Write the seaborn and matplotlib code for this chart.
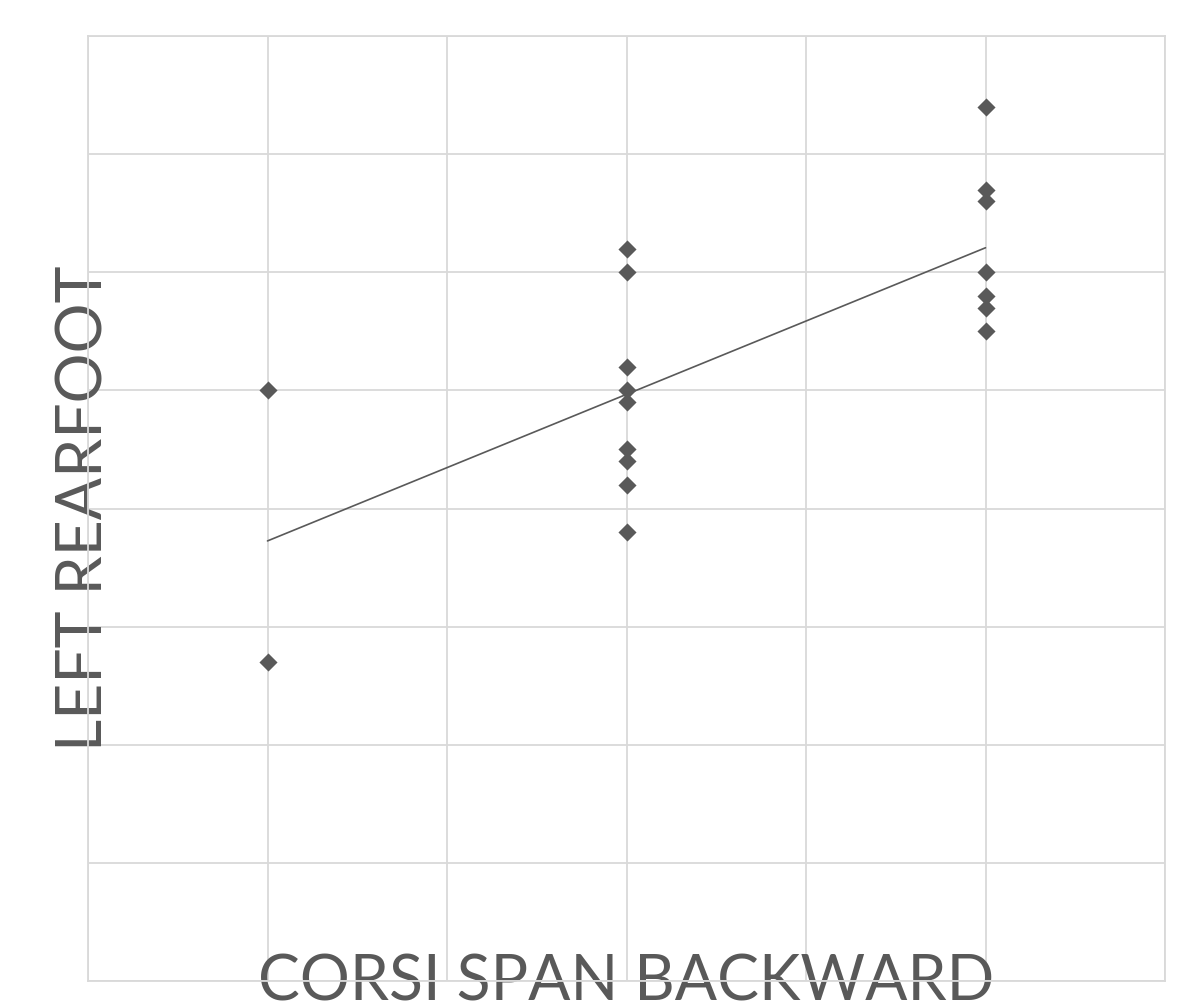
import numpy as np
import pandas as pd
import matplotlib.pyplot as plt
import seaborn as sns

# data
corsi_span = [1, 1,
              3, 3, 3, 3, 3, 3, 3, 3, 3,
              5, 5, 5, 5, 5, 5, 5]
left_rearfoot = [5.0, 2.7,
                 6.2, 6.0, 5.2, 5.0, 4.9, 4.5, 4.4, 4.2, 3.8,
                 7.4, 6.7, 6.6, 6.0, 5.8, 5.7, 5.5]

df = pd.DataFrame({"corsi": corsi_span, "rearfoot": left_rearfoot})

grey = "#595959"
grid_grey = "#d9d9d9"

sns.set_style("white")
plt.rcParams["font.family"] = ["Lato", "DejaVu Sans"]

fig = plt.figure(figsize=(11.93, 10.08), dpi=100)
ax = fig.add_axes([88 / 1193, 1 - 981 / 1008, 1077 / 1193, 945 / 1008])

# scatter + linear trend line
sns.regplot(data=df, x="corsi", y="rearfoot", ax=ax, ci=None, marker="D",
            scatter_kws={"s": 85, "color": grey, "alpha": 1, "linewidths": 0, "zorder": 3},
            line_kws={"color": grey, "lw": 1.2, "zorder": 2})

ax.set_xlim(0, 6)
ax.set_ylim(0, 8)
ax.set_xticks(range(0, 7))
ax.set_yticks(range(0, 9))
ax.tick_params(length=0, labelbottom=False, labelleft=False)
ax.grid(True, color=grid_grey, lw=1.3)
ax.set_axisbelow(True)
for s in ax.spines.values():
    s.set_color(grid_grey)
    s.set_linewidth(1.3)

ax.set_xlabel("CORSI SPAN BACKWARD", fontsize=45, color=grey, va="baseline")
ax.xaxis.set_label_coords(0.5, -0.021)
ax.set_ylabel("LEFT REARFOOT", fontsize=45, color=grey, va="baseline")
ax.yaxis.set_label_coords(0.0139, 0.5)

fig.savefig("out.png", dpi=100)
